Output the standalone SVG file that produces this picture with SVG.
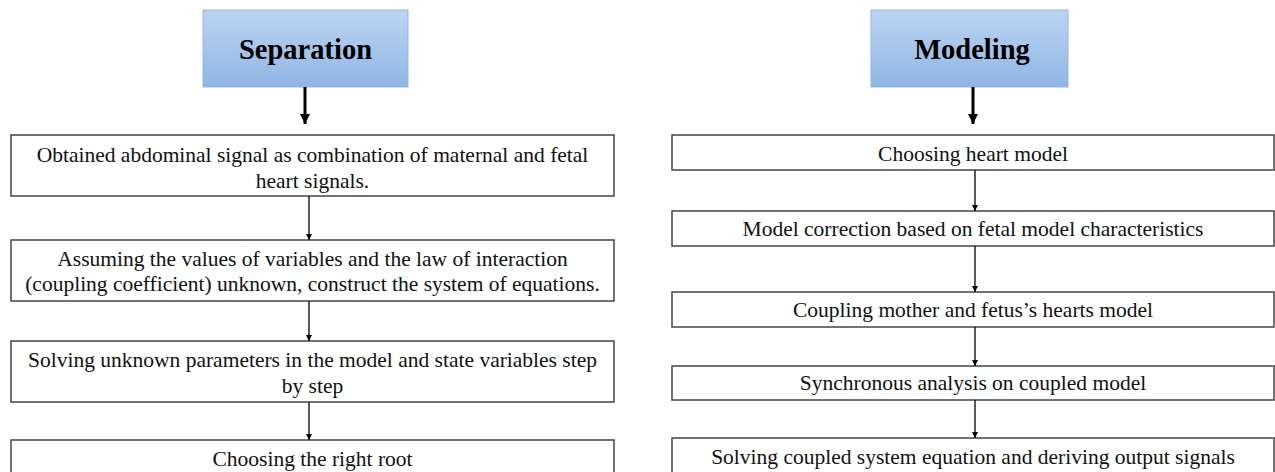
<svg xmlns="http://www.w3.org/2000/svg" width="1275" height="472" viewBox="0 0 1275 472">
<defs>
<linearGradient id="blue" x1="0" y1="0" x2="0" y2="1">
<stop offset="0" stop-color="#bcd4f1"/>
<stop offset="1" stop-color="#8fb6e4"/>
</linearGradient>
<marker id="ah" viewBox="0 0 10 10" refX="10" refY="5" markerWidth="6" markerHeight="7" markerUnits="userSpaceOnUse" orient="auto">
<path d="M0,0 L10,5 L0,10 Z" fill="#000"/>
</marker>
<marker id="ahb" viewBox="0 0 10 10" refX="10" refY="5" markerWidth="10" markerHeight="11" markerUnits="userSpaceOnUse" orient="auto">
<path d="M0,0 L10,5 L0,10 Z" fill="#000"/>
</marker>
</defs>
<style>
.title rect{fill:url(#blue);stroke:#95b7e0;stroke-width:1}
.title text{font-family:"Liberation Serif","Times New Roman",serif;font-weight:bold;font-size:28.5px;fill:#000;text-anchor:middle}
.box rect{fill:#fff;stroke:#444;stroke-width:1.5}
.box text{font-family:"Liberation Serif","Times New Roman",serif;font-size:21.5px;fill:#111;text-anchor:middle}
.thin{stroke:#000;stroke-width:1.3;marker-end:url(#ah);fill:none}
.thick{stroke:#000;stroke-width:3;marker-end:url(#ahb);fill:none}
</style>
<rect width="1275" height="472" fill="#fff"/>

<g id="separation" class="title">
<rect x="203" y="10" width="205" height="77"/>
<text x="305.5" y="59">Separation</text>
</g>
<g id="modeling" class="title">
<rect x="871" y="10" width="197" height="77"/>
<text x="972" y="59">Modeling</text>
</g>

<g id="s1" class="box">
<rect x="11" y="135" width="603" height="61"/>
<text x="312.5" y="162">Obtained abdominal signal as combination of maternal and fetal</text>
<text x="312.5" y="188">heart signals.</text>
</g>
<g id="s2" class="box">
<rect x="11" y="240" width="603" height="61"/>
<text x="312.5" y="266">Assuming the values of variables and the law of interaction</text>
<text x="312.5" y="291">(coupling coefficient) unknown, construct the system of equations.</text>
</g>
<g id="s3" class="box">
<rect x="11" y="341" width="603" height="61"/>
<text x="312.5" y="367">Solving unknown parameters in the model and state variables step</text>
<text x="312.5" y="393">by step</text>
</g>
<g id="s4" class="box">
<rect x="11" y="440" width="603" height="40"/>
<text x="312.5" y="466">Choosing the right root</text>
</g>

<g id="m1" class="box">
<rect x="672" y="135" width="602" height="35"/>
<text x="973" y="161">Choosing heart model</text>
</g>
<g id="m2" class="box">
<rect x="672" y="211" width="602" height="35"/>
<text x="973" y="235.5">Model correction based on fetal model characteristics</text>
</g>
<g id="m3" class="box">
<rect x="672" y="292" width="602" height="35"/>
<text x="973" y="316.5">Coupling mother and fetus’s hearts model</text>
</g>
<g id="m4" class="box">
<rect x="672" y="366" width="602" height="34"/>
<text x="973" y="389.5">Synchronous analysis on coupled model</text>
</g>
<g id="m5" class="box">
<rect x="672" y="438" width="602" height="40"/>
<text x="973" y="463.5">Solving coupled system equation and deriving output signals</text>
</g>

<g id="connectors">
<line class="thick" x1="305" y1="87" x2="305" y2="124"/>
<line class="thick" x1="973" y1="87" x2="973" y2="124"/>
<line class="thin" x1="309" y1="196" x2="309" y2="240"/>
<line class="thin" x1="309" y1="301" x2="309" y2="341"/>
<line class="thin" x1="309" y1="402" x2="309" y2="440"/>
<line class="thin" x1="975" y1="170" x2="975" y2="211"/>
<line class="thin" x1="975" y1="246" x2="975" y2="292"/>
<line class="thin" x1="975" y1="327" x2="975" y2="366"/>
<line class="thin" x1="975" y1="400" x2="975" y2="438"/>
</g>
</svg>
